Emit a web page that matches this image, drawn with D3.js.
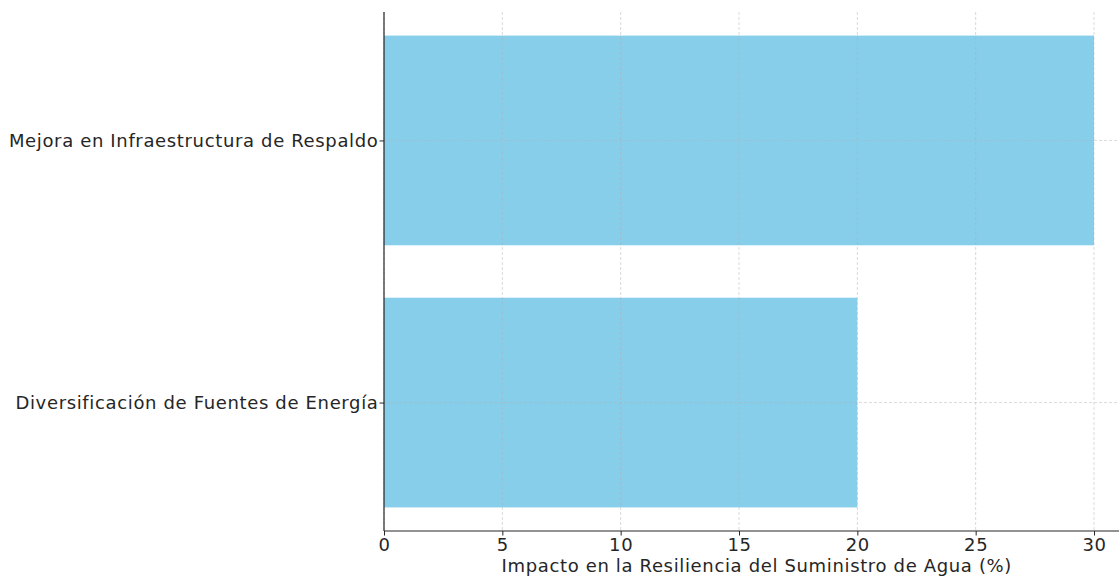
<!DOCTYPE html>
<html>
<head>
<meta charset="utf-8">
<script src="https://cdn.jsdelivr.net/npm/d3@7"></script>
<style>
  html, body { margin: 0; padding: 0; background: #fff; }
  svg { display: block; }
  text { font-family: "DejaVu Sans", sans-serif; fill: #262626; }
</style>
</head>
<body>
<svg id="chart" width="1119" height="576"></svg>
<script>
// Data (bottom to top order as drawn)
const categories = ["Diversificación de Fuentes de Energía", "Mejora en Infraestructura de Respaldo"];
const values = [20, 30];
const xTicks = [0, 5, 10, 15, 20, 25, 30];
const xLabel = "Impacto en la Resiliencia del Suministro de Agua (%)";

const svg = d3.select("#chart");
const mLeft = 384, mRight = 1129.5, mTop = 12, mBottom = 531;
const fontSize = "18px", letterSp = "0.65px";

const x = d3.scaleLinear().domain([0, 31.5]).range([mLeft, mRight]);
const y = d3.scaleLinear().domain([-0.49, 1.49]).range([mBottom, mTop]);
const barH = 0.8;

// Bars
svg.append("g").selectAll("rect").data(values).join("rect")
  .attr("x", x(0))
  .attr("y", (d, i) => y(i + barH / 2))
  .attr("width", d => x(d) - x(0))
  .attr("height", (d, i) => y(i - barH / 2) - y(i + barH / 2))
  .attr("fill", "#87CEEB");

// Grid (on top of bars)
const grid = svg.append("g");
grid.selectAll("line.v").data(xTicks).join("line")
  .attr("class", "v")
  .attr("x1", d => x(d)).attr("x2", d => x(d))
  .attr("y1", mTop).attr("y2", mBottom)
  .attr("stroke", "#b0b0b0").attr("stroke-opacity", 0.6)
  .attr("stroke-width", 0.8).attr("stroke-dasharray", "3,2");
grid.selectAll("line.h").data(categories).join("line")
  .attr("class", "h")
  .attr("x1", mLeft).attr("x2", mRight)
  .attr("y1", (d, i) => y(i)).attr("y2", (d, i) => y(i))
  .attr("stroke", "#b0b0b0").attr("stroke-opacity", 0.6)
  .attr("stroke-width", 0.8).attr("stroke-dasharray", "3,2");

// X axis
const xAxis = svg.append("g")
  .attr("transform", `translate(0,${mBottom})`)
  .call(d3.axisBottom(x).tickValues(xTicks).tickSize(4.5).tickPadding(3).tickFormat(d3.format("d")));
xAxis.select(".domain").attr("stroke", "#262626").attr("stroke-width", 1.2)
  .attr("d", `M${mLeft},0H${mRight}`);
xAxis.selectAll(".tick line").attr("stroke", "#262626");
xAxis.selectAll(".tick text").attr("font-size", fontSize).attr("fill", "#262626")
  .attr("font-family", "DejaVu Sans").attr("letter-spacing", letterSp);

// Y axis
const yAxis = svg.append("g")
  .attr("transform", `translate(${mLeft},0)`)
  .call(d3.axisLeft(y).tickValues([0, 1]).tickSize(4.5).tickPadding(1)
    .tickFormat((d) => categories[d]));
yAxis.select(".domain").attr("stroke", "#262626").attr("stroke-width", 1.2)
  .attr("d", `M0,${mBottom}V${mTop}`);
yAxis.selectAll(".tick line").attr("stroke", "#262626");
yAxis.selectAll(".tick text").attr("font-size", fontSize).attr("fill", "#262626")
  .attr("font-family", "DejaVu Sans").attr("letter-spacing", letterSp);

// X label (centred on the full axes width)
svg.append("text")
  .attr("x", (mLeft + mRight) / 2).attr("y", 572)
  .attr("text-anchor", "middle")
  .attr("font-size", fontSize)
  .attr("letter-spacing", letterSp)
  .text(xLabel);
</script>
</body>
</html>
